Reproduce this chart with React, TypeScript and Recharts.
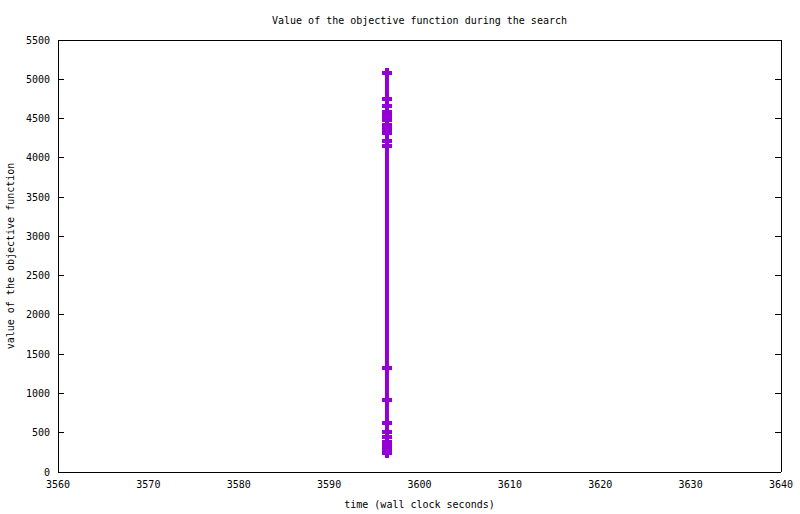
import { ComposedChart, Line, XAxis, YAxis } from "recharts";

// objective value samples — all recorded at (almost) the same wall-clock second
const times = [
  3596.4, 3596.4, 3596.4, 3596.4, 3596.4, 3596.4, 3596.4, 3596.4, 3596.4, 3596.4,
  3596.4, 3596.4, 3596.4, 3596.4, 3596.4, 3596.4, 3596.4, 3596.4, 3596.4, 3596.4,
];
const values = [
  5083, 4748, 4663, 4579, 4536, 4481, 4418, 4366, 4312, 4218,
  4146, 1328, 920, 628, 509, 450, 382, 331, 280, 238,
];

const xTicks = [3560, 3570, 3580, 3590, 3600, 3610, 3620, 3630, 3640];
const yTicks = [0, 500, 1000, 1500, 2000, 2500, 3000, 3500, 4000, 4500, 5000, 5500];

const data = times.map((t, i) => ({ t, v: values[i] }));

const PURPLE = "#9400d3";
const FONT = "DejaVu Sans Mono";
const tickFont = { fontSize: 10, fill: "#000", fontFamily: FONT };
const axisLine = { stroke: "#000", shapeRendering: "crispEdges" } as any;
const tickLine = { stroke: "#000", shapeRendering: "crispEdges" } as any;
const noLabel = () => <g />;

const Cross = (props: any) => {
  const { cx, cy } = props;
  if (cx == null || cy == null) return <g />;
  return (
    <g>
      <line x1={cx - 5} x2={cx + 5} y1={cy} y2={cy} stroke={PURPLE} strokeWidth={4} shapeRendering="crispEdges" />
      <line x1={cx} x2={cx} y1={cy - 5} y2={cy + 5} stroke={PURPLE} strokeWidth={4} shapeRendering="crispEdges" />
    </g>
  );
};

export default function App() {
  return (
    <div style={{ position: "absolute", left: 0, top: 0, width: 800, height: 514, background: "#fff" }}>
      <ComposedChart width={800} height={514} data={data} margin={{ top: 40, right: 19, left: 0, bottom: 0 }}>
        <XAxis
          xAxisId="b" dataKey="t" type="number" domain={[3560, 3640]} ticks={xTicks} allowDataOverflow
          height={42} tick={tickFont} tickLine={false} tickSize={0} tickMargin={9} axisLine={axisLine}
        />
        <XAxis
          xAxisId="bm" type="number" domain={[3560, 3640]} ticks={xTicks} allowDataOverflow
          orientation="bottom" mirror tick={noLabel} tickSize={6} tickLine={tickLine} axisLine={axisLine}
        />
        <XAxis
          xAxisId="tm" type="number" domain={[3560, 3640]} ticks={xTicks} allowDataOverflow
          orientation="top" mirror tick={noLabel} tickSize={6} tickLine={tickLine} axisLine={axisLine}
        />
        <YAxis
          yAxisId="l" type="number" domain={[0, 5500]} ticks={yTicks} allowDataOverflow
          width={58} tick={tickFont} tickLine={false} tickSize={0} tickMargin={8} axisLine={axisLine}
        />
        <YAxis
          yAxisId="lm" type="number" domain={[0, 5500]} ticks={yTicks} allowDataOverflow
          orientation="left" mirror tick={noLabel} tickSize={6} tickLine={tickLine} axisLine={axisLine}
        />
        <YAxis
          yAxisId="rm" type="number" domain={[0, 5500]} ticks={yTicks} allowDataOverflow
          orientation="right" mirror tick={noLabel} tickSize={6} tickLine={tickLine} axisLine={axisLine}
        />
        <Line
          xAxisId="b" yAxisId="l" dataKey="v" stroke={PURPLE} strokeWidth={4}
          dot={(p: any) => <Cross key={`c${p.index}`} {...p} />}
          activeDot={false} isAnimationActive={false}
        />
      </ComposedChart>
      <svg width={800} height={514} style={{ position: "absolute", left: 0, top: 0, pointerEvents: "none" }}>
        <text x={419.5} y={23.5} textAnchor="middle" fontSize={10} fontFamily={FONT} fill="#000">
          Value of the objective function during the search
        </text>
        <text x={419.5} y={508} textAnchor="middle" fontSize={10} fontFamily={FONT} fill="#000">
          time (wall clock seconds)
        </text>
        <text x={14} y={256} textAnchor="middle" fontSize={10} fontFamily={FONT} fill="#000" transform="rotate(-90 14 256)">
          value of the objective function
        </text>
      </svg>
    </div>
  );
}
